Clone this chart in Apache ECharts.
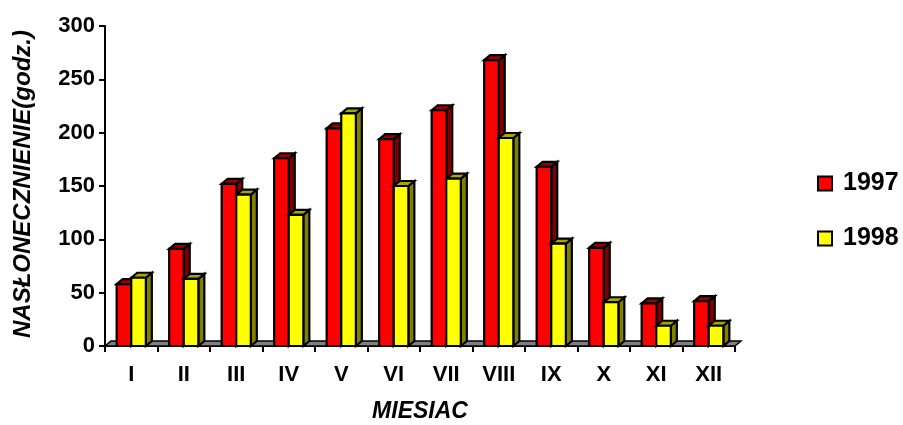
<!DOCTYPE html>
<html>
<head>
<meta charset="utf-8">
<script src="https://cdn.jsdelivr.net/npm/echarts@6/dist/echarts.min.js"></script>
<style>
  html, body { margin: 0; padding: 0; background: #fff; }
  #chart { width: 903px; height: 425px; }
</style>
</head>
<body>
<div id="chart"></div>
<script>
// Monthly sunshine hours, 1997 vs 1998
const months = ['I', 'II', 'III', 'IV', 'V', 'VI', 'VII', 'VIII', 'IX', 'X', 'XI', 'XII'];
const years = ['1997', '1998'];
const sun1997 = [58, 91, 152, 176, 204, 194, 221, 268, 168, 92, 40, 42];
const sun1998 = [64, 63, 142, 123, 218, 150, 157, 195, 96, 41, 19, 19];
const yTicks = { min: 0, max: 300, interval: 50 };

const FONT = '"Liberation Sans", Arial, sans-serif';
const DEPTH_X = 6, DEPTH_Y = 5;
const BAR_RATIO = 0.278;

// face colours per series: front, top, side
const faces = {
  '1997': { front: '#ff0000', top: '#990000', side: '#800000' },
  '1998': { front: '#ffff00', top: '#a6a600', side: '#808000' }
};

function bar3d(slot, name) {
  const f = faces[name];
  return function (params, api) {
    const idx = api.value(0);
    const val = api.value(1);
    const band = api.size([1, 0])[0];
    const w = band * BAR_RATIO;
    const base = api.coord([idx, 0]);
    const top = api.coord([idx, val]);
    const x0 = base[0] - w + slot * w;
    const x1 = x0 + w;
    const yb = base[1];
    const yt = top[1];
    const stroke = { stroke: '#000', lineWidth: 2.2, lineJoin: 'miter' };
    return {
      type: 'group',
      children: [
        { type: 'polygon', shape: { points: [[x1, yb], [x1 + DEPTH_X, yb - DEPTH_Y], [x1 + DEPTH_X, yt - DEPTH_Y], [x1, yt]] },
          style: Object.assign({ fill: f.side }, stroke) },
        { type: 'polygon', shape: { points: [[x0, yt], [x0 + DEPTH_X, yt - DEPTH_Y], [x1 + DEPTH_X, yt - DEPTH_Y], [x1, yt]] },
          style: Object.assign({ fill: f.top }, stroke) },
        { type: 'rect', shape: { x: x0, y: yt, width: w, height: yb - yt },
          style: Object.assign({ fill: f.front }, stroke) }
      ]
    };
  };
}

// floor slab under the columns
function floor(params, api) {
  const band = api.size([1, 0])[0];
  const a = api.coord([0, 0]);
  const b = api.coord([months.length - 1, 0]);
  const xl = a[0] - band / 2, xr = b[0] + band / 2, y = a[1];
  return {
    type: 'polygon',
    shape: { points: [[xl, y], [xl + DEPTH_X, y - DEPTH_Y], [xr + DEPTH_X, y - DEPTH_Y], [xr, y]] },
    style: { fill: '#808080', stroke: '#000', lineWidth: 1.5 }
  };
}

const chart = echarts.init(document.getElementById('chart'), null, { renderer: 'canvas' });

chart.setOption({
  animation: false,
  backgroundColor: '#fff',
  grid: { left: 105, right: 168, top: 26, bottom: 79 },
  xAxis: {
    type: 'category',
    data: months,
    boundaryGap: true,
    axisLine: { show: true, lineStyle: { color: '#000', width: 2 } },
    axisTick: { show: true, length: 6, lineStyle: { color: '#000', width: 2 } },
    axisLabel: { color: '#000', fontFamily: FONT, fontWeight: 'bold', fontSize: 22, margin: 18 },
    splitLine: { show: false }
  },
  yAxis: {
    type: 'value',
    min: yTicks.min, max: yTicks.max, interval: yTicks.interval,
    axisLine: { show: true, lineStyle: { color: '#000', width: 2 } },
    axisTick: { show: true, length: 6, lineStyle: { color: '#000', width: 2 } },
    axisLabel: { color: '#000', fontFamily: FONT, fontWeight: 'bold', fontSize: 22, margin: 10 },
    splitLine: { show: false }
  },
  legend: {
    orient: 'vertical',
    left: 812, top: 166,
    itemWidth: 14, itemHeight: 14,
    itemGap: 30,
    icon: 'rect',
    textStyle: { color: '#000', fontFamily: FONT, fontWeight: 'bold', fontSize: 25, padding: [0, 0, 0, 6] },
    data: years.map(y => ({ name: y, itemStyle: { color: faces[y].front, borderColor: '#000', borderWidth: 2 } }))
  },
  graphic: [
    { type: 'text', x: 23, y: 184, rotation: Math.PI / 2,
      style: { text: 'NASŁONECZNIENIE(godz.)', font: 'italic bold 24px ' + FONT, fill: '#000',
               textAlign: 'center', textVerticalAlign: 'middle' } },
    { type: 'text', x: 420, y: 412,
      style: { text: 'MIESIAC', font: 'italic bold 23px ' + FONT, fill: '#000',
               textAlign: 'center', textVerticalAlign: 'middle' } }
  ],
  series: [
    { type: 'custom', name: 'floor', silent: true, clip: false, z: 1,
      renderItem: floor, data: [[0, 0]], encode: { x: 0, y: 1 } },
    { type: 'custom', name: '1997', clip: false, z: 2,
      itemStyle: { color: faces['1997'].front },
      renderItem: bar3d(0, '1997'),
      data: sun1997.map((v, i) => [i, v]), encode: { x: 0, y: 1 } },
    { type: 'custom', name: '1998', clip: false, z: 3,
      itemStyle: { color: faces['1998'].front },
      renderItem: bar3d(1, '1998'),
      data: sun1998.map((v, i) => [i, v]), encode: { x: 0, y: 1 } }
  ]
});
</script>
</body>
</html>
